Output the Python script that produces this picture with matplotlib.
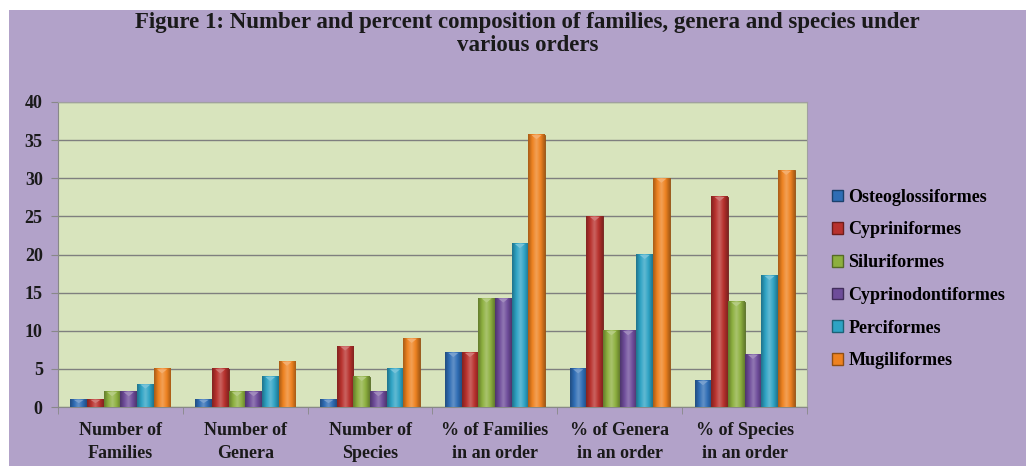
import numpy as np
import matplotlib.pyplot as plt
from matplotlib.colors import LinearSegmentedColormap, to_rgb
from matplotlib.patches import Rectangle, Patch

# Data
categories = ['Number of\nFamilies', 'Number of\nGenera', 'Number of\nSpecies',
              '% of Families\nin an order', '% of Genera\nin an order', '% of Species\nin an order']
orders = ['Osteoglossiformes', 'Cypriniformes', 'Siluriformes',
          'Cyprinodontiformes', 'Perciformes', 'Mugiliformes']
osteo = [1, 1, 1, 7.14, 5, 3.45]
cypri = [1, 5, 8, 7.14, 25, 27.59]
silur = [2, 2, 4, 14.29, 10, 13.79]
cyprino = [2, 2, 2, 14.29, 10, 6.9]
perci = [3, 4, 5, 21.43, 20, 17.24]
mugil = [5, 6, 9, 35.71, 30, 31.03]
series = [osteo, cypri, silur, cyprino, perci, mugil]
colors = ['#2f6db5', '#b8312d', '#8db03f', '#6e4c9a', '#2ea3c4', '#ee8220']

serif = ['Liberation Serif', 'DejaVu Serif']
bg = '#b2a2c9'

fig = plt.figure(figsize=(10.26, 4.66), dpi=100, facecolor='white')
fig.patches.append(Rectangle((9 / 1026, 0), 1, 1 - 10 / 466, transform=fig.transFigure,
                             facecolor=bg, edgecolor='none', zorder=-10))

ax = fig.add_axes([58 / 1026, 1 - 407 / 466, 749 / 1026, 305 / 466])
ax.set_facecolor('#d8e4bd')

x = np.arange(len(categories))
w = 0.8 / len(series)


def shade(c, f):
    r = np.array(to_rgb(c))
    if f < 1:
        return tuple(r * f)
    return tuple(r + (1 - r) * (f - 1))


for i, vals in enumerate(series):
    bars = ax.bar(x + (i - 2.5) * w, vals, w, color=colors[i], edgecolor=shade(colors[i], 0.6),
                  linewidth=0.6, zorder=3)
    cmap = LinearSegmentedColormap.from_list(
        'g%d' % i, [shade(colors[i], 0.7), shade(colors[i], 1.0), shade(colors[i], 1.25),
                    shade(colors[i], 1.0), shade(colors[i], 0.7)])
    grad = np.linspace(0, 1, 64).reshape(1, -1)
    for b in bars:
        x0, h = b.get_x(), b.get_height()
        ax.imshow(grad, extent=(x0, x0 + w, 0, h), cmap=cmap, aspect='auto', zorder=3.5,
                  interpolation='bicubic')
        top = min(0.6, h * 0.5)
        ax.fill([x0 + w * 0.2, x0 + w * 0.8, x0 + w * 0.5], [h - 0.05, h - 0.05, h - top],
                color=shade(colors[i], 1.35), lw=0, zorder=4)

ax.set_xlim(-0.5, 5.5)
ax.set_ylim(0, 40)
ax.set_yticks(range(0, 41, 5))
ax.grid(axis='y', color='#7f7f7f', linewidth=1, zorder=1)
ax.set_axisbelow(True)

ax.set_xticks(x)
ax.set_xticklabels(categories, linespacing=1.45)
ax.set_xticks(np.arange(-0.5, 6, 1), minor=True)
ax.tick_params(axis='x', which='major', length=0, pad=11)
ax.tick_params(axis='x', which='minor', length=5, color='#888888', direction='out')
ax.tick_params(axis='y', length=5, color='#888888', direction='out', pad=6)
for lab in ax.get_xticklabels() + ax.get_yticklabels():
    lab.set_fontfamily(serif)
    lab.set_fontweight('bold')
    lab.set_fontsize(13)
    lab.set_color('#1a1a1a')
for s in ax.spines.values():
    s.set_color('#a0a0a0')
ax.spines['left'].set_color('#888888')
ax.spines['bottom'].set_color('#888888')

fig.text(0.514, 0.975, 'Figure 1: Number and percent composition of families, genera and species under\nvarious orders',
         ha='center', va='top', fontsize=16.5, fontweight='bold', family=serif, color='#1a1a1a',
         linespacing=1.12)

handles = [Patch(facecolor=c, edgecolor=shade(c, 0.6)) for c in colors]
leg = fig.legend(handles, orders, loc='center left', bbox_to_anchor=(832 / 1026, 1 - 279 / 466),
                 frameon=False, handlelength=0.6, handleheight=0.6, handletextpad=0.3,
                 borderpad=0, borderaxespad=0,
                 labelspacing=0.87, prop={'family': serif, 'weight': 'bold', 'size': 13})

fig.savefig('out.png', dpi=100, facecolor='white')
